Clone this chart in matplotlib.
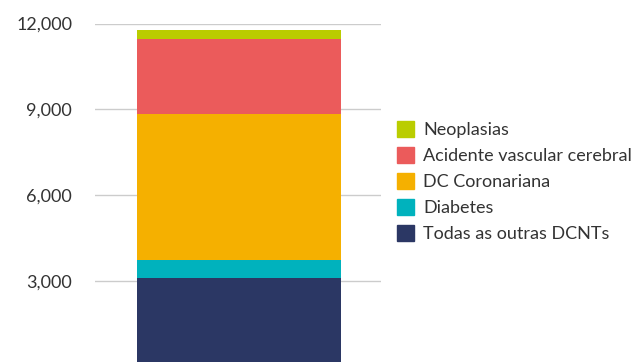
import matplotlib.pyplot as plt
from matplotlib.patches import Patch

plt.rcParams['font.family'] = ['Lato', 'DejaVu Sans']

# valores (de baixo para cima)
causas = ['Todas as outras DCNTs', 'Diabetes', 'DC Coronariana',
          'Acidente vascular cerebral', 'Neoplasias']
valores = [3105, 632, 5098, 2621, 316]
cores = ['#2b3764', '#00b2bd', '#f5b000', '#eb5b5b', '#bacd00']
yticks = [3000, 6000, 9000, 12000]

fig = plt.figure(figsize=(6.35, 3.62), dpi=100)
ax = fig.add_axes([95/635, -5/362, 286/635, 343.5/362])

base = 0
for v, c in zip(valores, cores):
    ax.bar(0, v, bottom=base, width=0.713, color=c, zorder=2)
    base += v

ax.set_xlim(-0.503, 0.497)
ax.set_ylim(0, 12000)
ax.set_yticks(yticks)
ax.set_yticklabels(['{:,}'.format(t) for t in yticks])
ax.yaxis.grid(True, color='#cccccc', linewidth=1, zorder=0)
ax.set_xticks([])
for s in ax.spines.values():
    s.set_visible(False)
ax.tick_params(axis='y', length=0, pad=16.5, labelsize=13, labelcolor='#333333')

handles = [Patch(color=c) for c in cores[::-1]]
fig.legend(handles, causas[::-1], loc='upper left',
           bbox_to_anchor=(397/635, 1 - 121/362), frameon=False,
           fontsize=13, labelcolor='#333333', handlelength=0.95,
           handleheight=0.95, handletextpad=0.5, labelspacing=0.5,
           borderpad=0, borderaxespad=0)

fig.savefig('out.png', dpi=100)
